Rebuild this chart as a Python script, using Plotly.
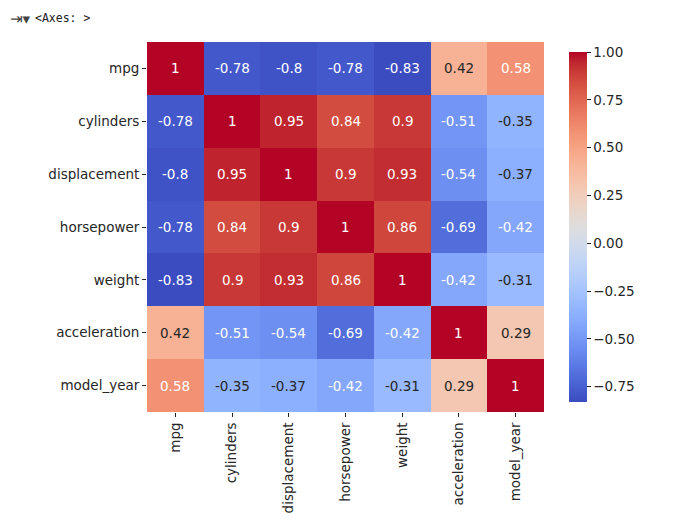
import plotly.graph_objects as go

# Matriz de correlação (auto-mpg)
variaveis = ["mpg", "cylinders", "displacement", "horsepower",
             "weight", "acceleration", "model_year"]

mpg          = [1.00, -0.78, -0.80, -0.78, -0.83, 0.42, 0.58]
cylinders    = [-0.78, 1.00, 0.95, 0.84, 0.90, -0.51, -0.35]
displacement = [-0.80, 0.95, 1.00, 0.90, 0.93, -0.54, -0.37]
horsepower   = [-0.78, 0.84, 0.90, 1.00, 0.86, -0.69, -0.42]
weight       = [-0.83, 0.90, 0.93, 0.86, 1.00, -0.42, -0.31]
acceleration = [0.42, -0.51, -0.54, -0.69, -0.42, 1.00, 0.29]
model_year   = [0.58, -0.35, -0.37, -0.42, -0.31, 0.29, 1.00]

corr = [mpg, cylinders, displacement, horsepower, weight, acceleration, model_year]

cbar_ticks = [1.00, 0.75, 0.50, 0.25, 0.00, -0.25, -0.50, -0.75]

# coolwarm (Moreland)
cw = [
    (59, 76, 192), (68, 90, 204), (77, 104, 215), (87, 117, 225), (98, 130, 234),
    (108, 142, 241), (119, 154, 247), (130, 165, 251), (141, 176, 254), (152, 185, 255),
    (163, 194, 255), (174, 201, 253), (184, 208, 249), (194, 213, 244), (204, 217, 238),
    (213, 219, 230), (221, 221, 221), (229, 216, 209), (236, 211, 197), (241, 204, 185),
    (245, 196, 173), (247, 187, 160), (247, 177, 148), (247, 166, 135), (244, 154, 123),
    (241, 141, 111), (236, 127, 99), (229, 112, 88), (222, 96, 77), (213, 80, 66),
    (203, 62, 56), (192, 40, 47), (180, 4, 38),
]
n = len(cw) - 1
colorscale = [[i / n, "rgb(%d,%d,%d)" % c] for i, c in enumerate(cw)]

zmin, zmax = -0.83, 1.0


def cor_em(v):
    t = (v - zmin) / (zmax - zmin) * n
    i = min(int(t), n - 1)
    f = t - i
    return [cw[i][k] + (cw[i + 1][k] - cw[i][k]) * f for k in range(3)]


def luminancia(rgb):
    out = []
    for c in rgb:
        c = c / 255
        out.append(c / 12.92 if c <= 0.03928 else ((c + 0.055) / 1.055) ** 2.4)
    return 0.2126 * out[0] + 0.7152 * out[1] + 0.0722 * out[2]


# o navegador põe 8px de margem no body
OFF = 8
L, T = 147 - OFF, 42 - OFF
PW, PH = 397, 370

fig = go.Figure(go.Heatmap(
    z=corr, x=variaveis, y=variaveis,
    colorscale=colorscale, zmin=zmin, zmax=zmax,
    colorbar=dict(
        thickness=18, thicknessmode="pixels",
        len=1, lenmode="fraction", y=0.5, yanchor="middle",
        x=(569 - 147) / PW, xanchor="left", xpad=0,
        outlinewidth=0,
        tickvals=cbar_ticks, tickformat=".2f",
        ticks="outside", ticklen=4, tickcolor="#262626",
        tickfont=dict(family="DejaVu Sans", size=13.5, color="#262626"),
    ),
))

anots = []
for i, linha in enumerate(variaveis):
    for j, col in enumerate(variaveis):
        v = corr[i][j]
        cor_txt = "#262626" if luminancia(cor_em(v)) > 0.408 else "white"
        anots.append(dict(
            x=col, y=linha, xref="x", yref="y", text=f"{v:.2g}",
            showarrow=False,
            font=dict(family="DejaVu Sans", size=13.5, color=cor_txt),
        ))

# saída do notebook (topo)
anots.append(dict(
    x=(33 - 147) / PW, y=1 + (42 - 18) / PH, xref="paper", yref="paper",
    text="&lt;Axes: &gt;", showarrow=False, xanchor="left", yanchor="middle",
    font=dict(family="DejaVu Sans Mono", size=11.5, color="#212121"),
))
anots.append(dict(
    x=(8 - 147) / PW, y=1 + (42 - 19) / PH, xref="paper", yref="paper",
    text="⇥▾", showarrow=False, xanchor="left", yanchor="middle",
    font=dict(family="DejaVu Sans", size=15, color="#444444"),
))

fig.update_layout(
    annotations=anots,
    width=L + PW + 130, height=T + PH + 117,
    margin=dict(l=L, r=130, t=T, b=117, autoexpand=False),
    paper_bgcolor="white", plot_bgcolor="white",
    font=dict(family="DejaVu Sans", size=13.5, color="#262626"),
    xaxis=dict(
        tickangle=-90, ticks="outside", ticklen=4, tickcolor="#262626",
        showgrid=False, zeroline=False, showline=False,
    ),
    yaxis=dict(
        autorange="reversed", ticks="outside", ticklen=4, tickcolor="#262626",
        showgrid=False, zeroline=False, showline=False,
    ),
)

fig.write_html("out.html")
